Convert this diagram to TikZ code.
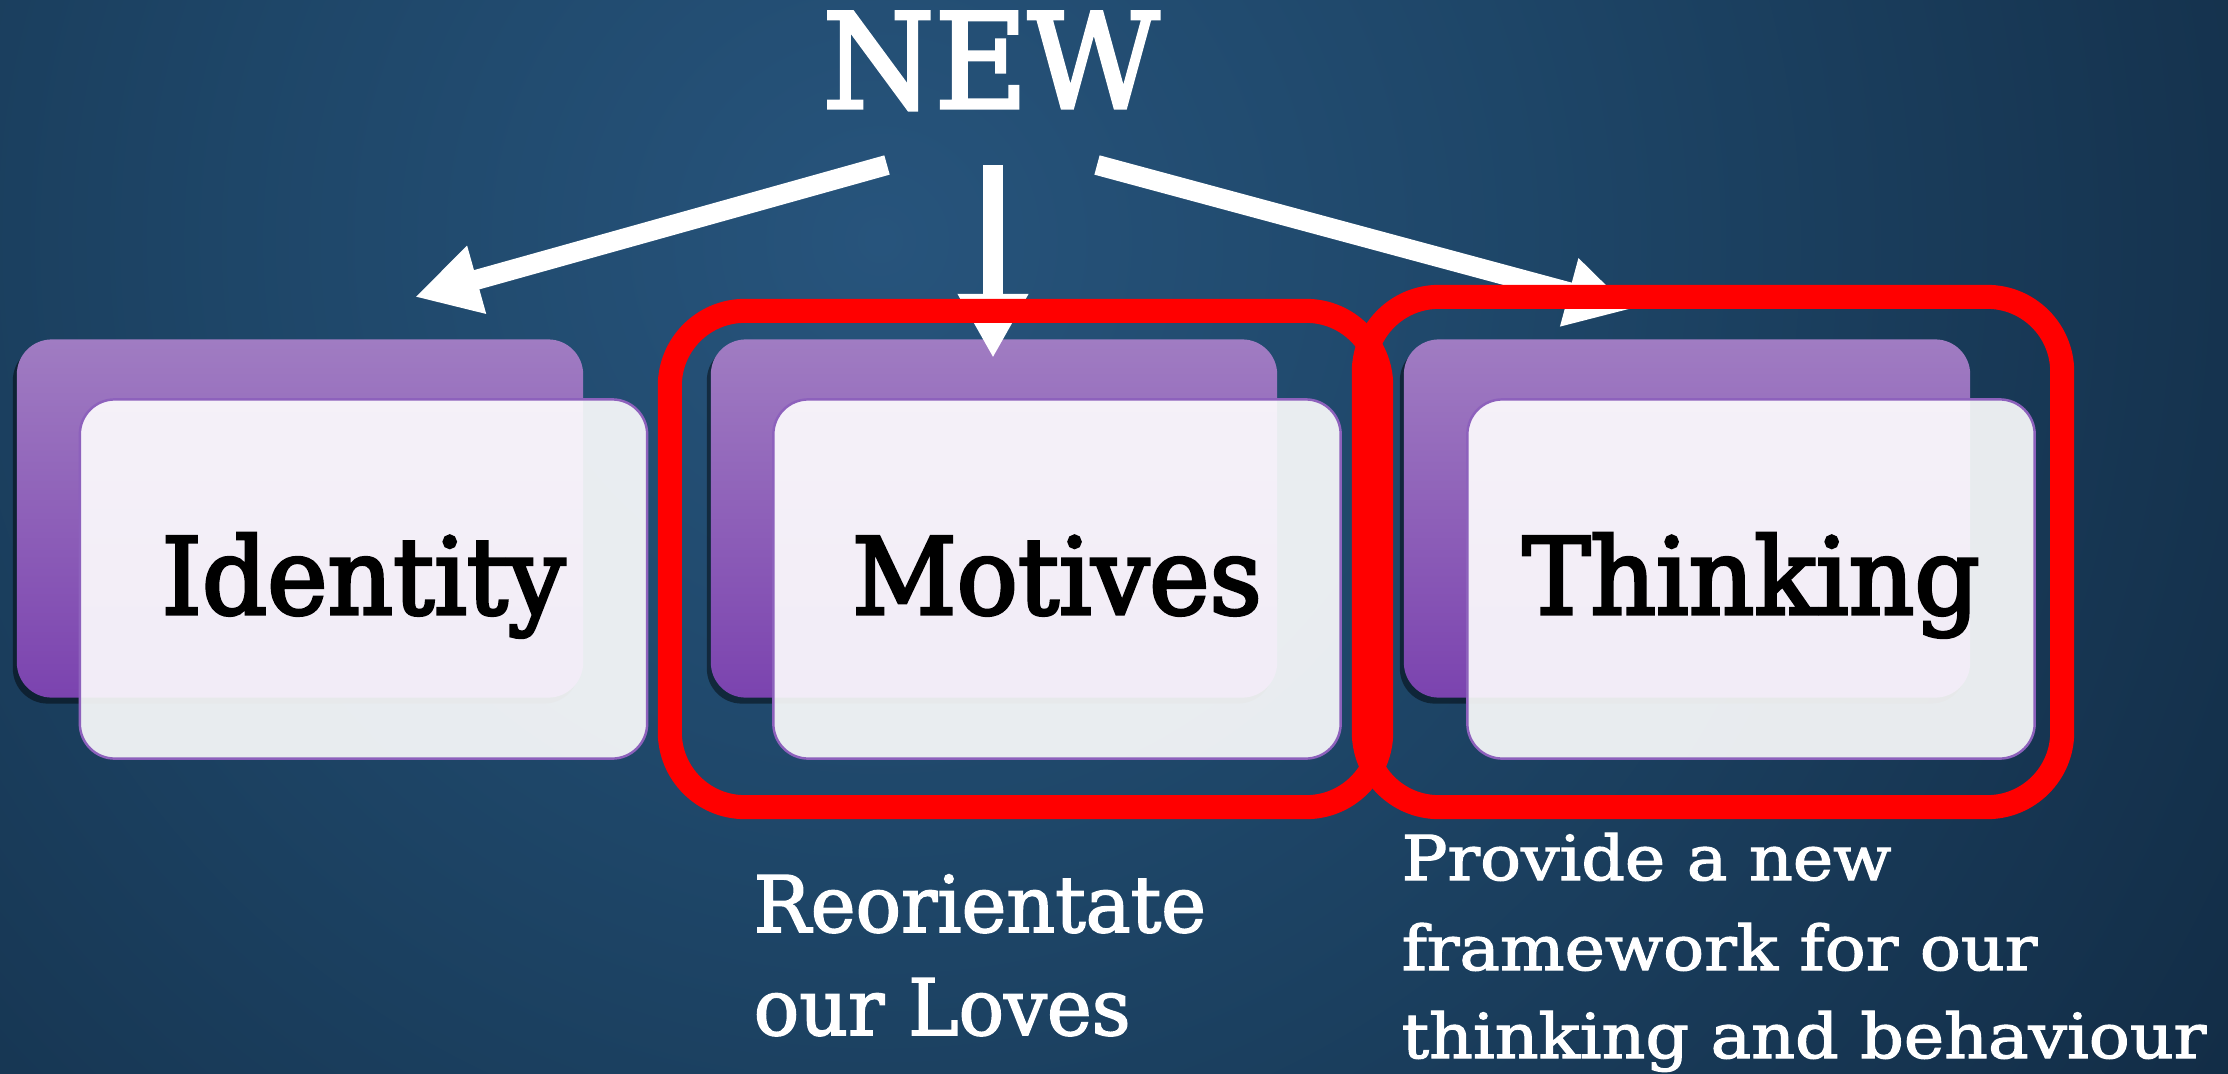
\documentclass[tikz,border=0pt]{standalone}
\usepackage{fontspec}
\setmainfont{DejaVu Serif}
\newfontfamily\labfont{DejaVu Serif}[FakeStretch=0.96, FakeBold=3]
\newfontfamily\titlefont{DejaVu Serif}[FakeStretch=0.97, FakeBold=2.5]
\newfontfamily\bigfont{DejaVu Serif}[FakeStretch=0.97, FakeBold=2]
\newfontfamily\smallfont{DejaVu Serif}[FakeStretch=1.1, FakeBold=2]
\usetikzlibrary{arrows.meta,shadows}
\definecolor{bgA}{HTML}{27547C}
\definecolor{bgB}{HTML}{1E4668}
\definecolor{bgC}{HTML}{102840}
\definecolor{bgD}{HTML}{08121C}
\definecolor{purpTop}{HTML}{A07CC2}
\definecolor{purpBot}{HTML}{7B43AF}
\definecolor{frameP}{HTML}{8D61BC}
\definecolor{hlred}{HTML}{FF0000}
\pgfdeclareradialshading{bgshade}{\pgfpointorigin}{color(0bp)=(bgA); color(8bp)=(bgB); color(22bp)=(bgC); color(34bp)=(bgD); color(50bp)=(bgD)}
\begin{document}
\begin{tikzpicture}[x=0.01cm,y=-0.01cm,
  backbox/.style={rectangle, rounded corners=0.35cm, minimum width=5.66cm, minimum height=3.58cm,
    top color=purpTop, bottom color=purpBot, draw=none, inner sep=0,
    drop shadow={shadow xshift=-0.04cm, shadow yshift=-0.06cm, opacity=0.45, fill=black}},
  frontbox/.style={rectangle, rounded corners=0.35cm, minimum width=5.67cm, minimum height=3.59cm,
    fill=white, fill opacity=0.9, draw=frameP, line width=0.7pt, inner sep=0},
  lab/.style={anchor=base, inner sep=0, text=black, font=\labfont\fontsize{30.2}{36}\selectfont},
  hlbox/.style={rectangle, draw=hlred, line width=0.24cm, rounded corners=0.75cm, inner sep=0},
  arr/.style={draw=white, line width=0.2cm, -{Triangle[length=0.64cm,width=0.66cm]}},
  bigw/.style={anchor=base west, inner sep=0, text=white, font=\bigfont\fontsize{22.2}{29}\selectfont},
  smallw/.style={anchor=base west, inner sep=0, text=white, font=\smallfont\fontsize{17.6}{25}\selectfont}
]
\useasboundingbox (0,0) rectangle (2228,1073);
\begin{scope}
  \clip (0,0) rectangle (2228,1073);
  \shade[shading=bgshade] (880,240) circle (2000);
\end{scope}

% back boxes
\node[backbox] (idb) at (300,518.5) {};
\node[backbox] (mob) at (994,518.5) {};
\node[backbox] (thb) at (1687,518.5) {};
% front boxes
\node[frontbox] (idf) at (363.5,579) {};
\node[frontbox] (mof) at (1057,579) {};
\node[frontbox] (thf) at (1751,579) {};
% labels
\node[lab] (idl) at (363.5,614) {Identity};
\node[lab] (mol) at (1057,614) {Motives};
\node[lab] (thl) at (1751,614) {Thinking};

% title
\node[anchor=base, inner sep=0, text=white, font=\titlefont\fontsize{37.5}{45}\selectfont] (new) at (991,108) {NEW};

% arrows
\coordinate (tL) at (887,165);  \coordinate (hL) at (415,297);
\coordinate (tM) at (993,165);  \coordinate (hM) at (993,358);
\coordinate (tR) at (1097,165); \coordinate (hR) at (1631,309);
\draw[arr] (tL) -- (hL);
\draw[arr] (tM) -- (hM);
\draw[arr] (tR) -- (hR);

% highlight frames
\node[hlbox, minimum width=7.11cm, minimum height=4.96cm] (hl1) at (1025.5,559) {};
\node[hlbox, minimum width=6.98cm, minimum height=5.10cm] (hl2) at (1713,552) {};

% bottom texts
\node[bigw] (r1) at (753,932) {Reorientate};
\node[bigw] (r2) at (753,1035) {our Loves};
\node[smallw] (p1) at (1401,880) {Provide a new};
\node[smallw] (p2) at (1401,970) {framework for our};
\node[smallw] (p3) at (1401,1058) {thinking and behaviour};
\end{tikzpicture}
\end{document}
